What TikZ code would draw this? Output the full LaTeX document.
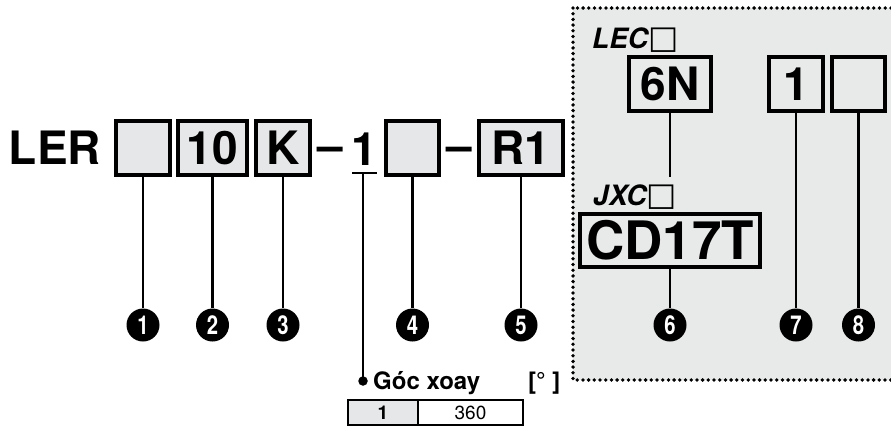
\documentclass[tikz,border=0pt]{standalone}
\usepackage{fontspec}
\setmainfont{TeX Gyre Heros}
\newfontfamily\dejavu{DejaVu Sans}
\definecolor{boxgray}{HTML}{E6E7E8}
\definecolor{bggray}{HTML}{E8E9E9}
\begin{document}
\begin{tikzpicture}[x=1pt,y=-1pt,
  codebox/.style={draw, line width=3.4pt, fill=boxgray, inner sep=0pt, minimum height=54pt,
    font=\fontsize{46}{46}\selectfont\bfseries},
  bigtxt/.style={inner sep=0pt, font=\fontsize{46}{46}\selectfont\bfseries},
  series/.style={inner sep=0pt, anchor=base west, font=\fontsize{28}{28}\selectfont\bfseries\itshape},
  num/.style={circle, fill=black, text=white, inner sep=0pt, minimum size=33pt,
    font=\fontsize{26}{26}\selectfont\bfseries},
  conn/.style={line width=2.8pt}
]
\useasboundingbox (0,0) rectangle (891,426);
\clip (0,0) rectangle (891,426);
\fill[white] (0,0) rectangle (891,426);

% dotted region
\draw[fill=bggray, line width=3.8pt, dash pattern=on 0pt off 5.7pt, line cap=round]
  (573,8) rectangle (910,380);

% main code
\node[bigtxt] (ler) at (55,148) {LER};
\node[codebox, minimum width=54pt] (b1) at (143,148) {};
\node[codebox, minimum width=69pt] (b2) at (212.5,148) {10};
\node[codebox, minimum width=54pt] (b3) at (283,148) {K};
\node[bigtxt, anchor=base] (d1) at (330,161) {–};
\node[bigtxt, anchor=base] (t1) at (364,165) {1};
\node[codebox, minimum width=53pt] (b4) at (412.5,148) {};
\node[bigtxt, anchor=base] (d2) at (459.5,161) {–};
\node[codebox, minimum width=84pt] (b5) at (521,148) {R1};

% right part
\node[series] (lec) at (592,48) {LEC{\fontsize{32}{32}\selectfont\dejavu\mdseries\upshape □}};
\node[codebox, fill=bggray, minimum width=82pt] (b6) at (670,84) {6N};
\node[codebox, fill=bggray, minimum width=54pt] (b7) at (796,84) {1};
\node[codebox, fill=bggray, minimum width=53pt] (b8) at (858.5,84) {};
\node[series] (jxc) at (593,205) {JXC{\fontsize{32}{32}\selectfont\dejavu\mdseries\upshape □}};
\node[codebox, fill=bggray, minimum width=180pt, minimum height=53pt,
  font=\fontsize{53}{53}\selectfont\bfseries] (b6b) at (670,240.5) {CD17T};
\coordinate (jtop) at (670,177);

% circled numbers
\foreach \n/\x in {1/143,2/212.5,3/283,4/412.5,5/521,6/670,7/796,8/858.5}
  \node[num] (c\n) at (\x,325) {\scalebox{0.78}[1]{\n}};

% connectors
\draw[conn] (b1.south) -- (c1.north);
\draw[conn] (b2.south) -- (c2.north);
\draw[conn] (b3.south) -- (c3.north);
\draw[conn] (b4.south) -- (c4.north);
\draw[conn] (b5.south) -- (c5.north);
\draw[conn] (b6.south) -- (jtop);
\draw[conn] (b6b.south) -- (c6.north);
\draw[conn] (b7.south) -- (c7.north);
\draw[conn] (b8.south) -- (c8.north);

% rotation angle
\coordinate (ul) at (352,173);
\coordinate (ur) at (377,173);
\coordinate (um) at (363,173);
\draw[conn] (ul) -- (ur);
\node[circle, fill=black, inner sep=0pt, minimum size=9.5pt] (dot) at (363,381) {};
\draw[conn] (um) -- (dot.center);
\node[inner sep=0pt, anchor=base west, font=\fontsize{24}{24}\selectfont\bfseries] (goc) at (373,389) {Góc xoay};
\node[inner sep=0pt, anchor=base west, font=\fontsize{24}{24}\selectfont\bfseries] (unit) at (528,389) {[° ]};
\draw[line width=2pt, fill=boxgray] (348,400) rectangle (418,425);
\draw[line width=2pt, fill=white] (418,400) rectangle (523,425);
\node[inner sep=0pt, font=\fontsize{19}{19}\selectfont\bfseries] (tv1) at (383,412.5) {1};
\node[inner sep=0pt, font=\fontsize{19}{19}\selectfont] (tv2) at (470.5,412.5) {360};
\end{tikzpicture}
\end{document}
